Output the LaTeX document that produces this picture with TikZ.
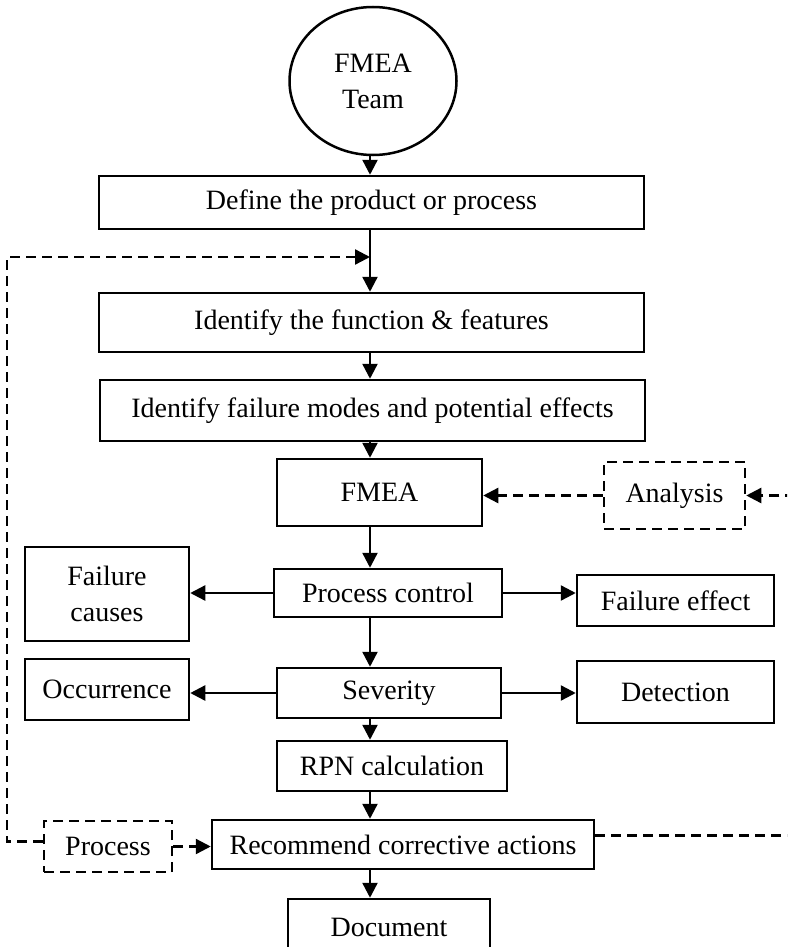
\documentclass[tikz,border=0pt]{standalone}
\usepackage{fontspec}
\setmainfont{Liberation Serif}
\usetikzlibrary{positioning,arrows.meta,shapes.geometric}

\begin{document}
\begin{tikzpicture}[
  x=1pt,y=-1pt,
  font=\fontsize{28}{36}\selectfont,
  >={Triangle[length=15pt,width=15pt]},
  box/.style={draw,line width=2.5pt,inner sep=0pt,align=center},
  dbox/.style={box,dash pattern=on 10pt off 6pt},
  flow/.style={->,line width=2.4pt},
  fb/.style={line width=2.4pt,dash pattern=on 10pt off 6pt},
]
\useasboundingbox (0,0) rectangle (787,947);
\clip (0,0) rectangle (787,947);

% ===== main column =====
\coordinate (spine) at (370,0);
\node[box,ellipse,minimum width=167pt,minimum height=148pt] (team) at (373,81) {FMEA\\Team};
\node[box,minimum width=545pt,minimum height=53pt] (define) at (371.5,202.5) {Define the product or process};
\node[box,minimum width=545pt,minimum height=59pt] (idfun) at (371.5,322.5) {Identify the function \& features};
\node[box,minimum width=545pt,minimum height=61pt] (idfail) at (372.5,410.5) {Identify failure modes and potential effects};
\node[box,minimum width=205pt,minimum height=67pt] (fmea) at (379.5,492.5) {FMEA};
\node[box,minimum width=228pt,minimum height=48pt] (pc) at (388,593) {Process control};
\node[box,minimum width=224pt,minimum height=50pt] (sev) at (389,693) {Severity};
\node[box,minimum width=230pt,minimum height=50pt] (rpn) at (392,766) {RPN calculation};
\node[box,minimum width=382pt,minimum height=49pt] (rca) at (403,844.5) {Recommend corrective actions};
\node[box,minimum width=202pt,minimum height=56pt] (doc) at (389,927) {Document};

% ===== side boxes =====
\node[dbox,minimum width=141pt,minimum height=67pt] (ana) at (674.5,495.5) {Analysis};
\node[box,minimum width=164pt,minimum height=94pt] (fcause) at (107,594) {Failure\\causes};
\node[box,minimum width=197pt,minimum height=51pt] (feff) at (675.5,600.5) {Failure effect};
\node[box,minimum width=164pt,minimum height=61pt] (occ) at (107,689.5) {Occurrence};
\node[box,minimum width=197pt,minimum height=62pt] (det) at (675.5,692) {Detection};
\node[dbox,minimum width=128pt,minimum height=51pt] (proc) at (108,846.5) {Process};

% ===== flow down the spine =====
\draw[flow] (team.south-|spine) -- (define.north-|spine);
\draw[flow] (define.south-|spine) -- (idfun.north-|spine);
\draw[flow] (idfun.south-|spine) -- (idfail.north-|spine);
\draw[flow] (idfail.south-|spine) -- (fmea.north-|spine);
\draw[flow] (fmea.south-|spine) -- (pc.north-|spine);
\draw[flow] (pc.south-|spine) -- (sev.north-|spine);
\draw[flow] (sev.south-|spine) -- (rpn.north-|spine);
\draw[flow] (rpn.south-|spine) -- (rca.north-|spine);
\draw[flow] (rca.south-|spine) -- (doc.north-|spine);

% ===== branches =====
\draw[flow] (pc.west) -- (pc.west-|fcause.east);
\draw[flow] (pc.east) -- (pc.east-|feff.west);
\draw[flow] (sev.west) -- (sev.west-|occ.east);
\draw[flow] (sev.east) -- (sev.east-|det.west);

% ===== dashed feedback loops =====
\coordinate (loopin) at (370,257);
\draw[fb,->] ([yshift=5pt]proc.west) -- ++(-36,0) |- (loopin);
\draw[fb,->] (proc.east) -- (proc.east-|rca.west);
\draw[fb,->] ([yshift=9pt]rca.east) -- ++(210,0) |- (ana.east);
\draw[fb,->] (ana.west) -- (ana.west-|fmea.east);
\end{tikzpicture}
\end{document}
